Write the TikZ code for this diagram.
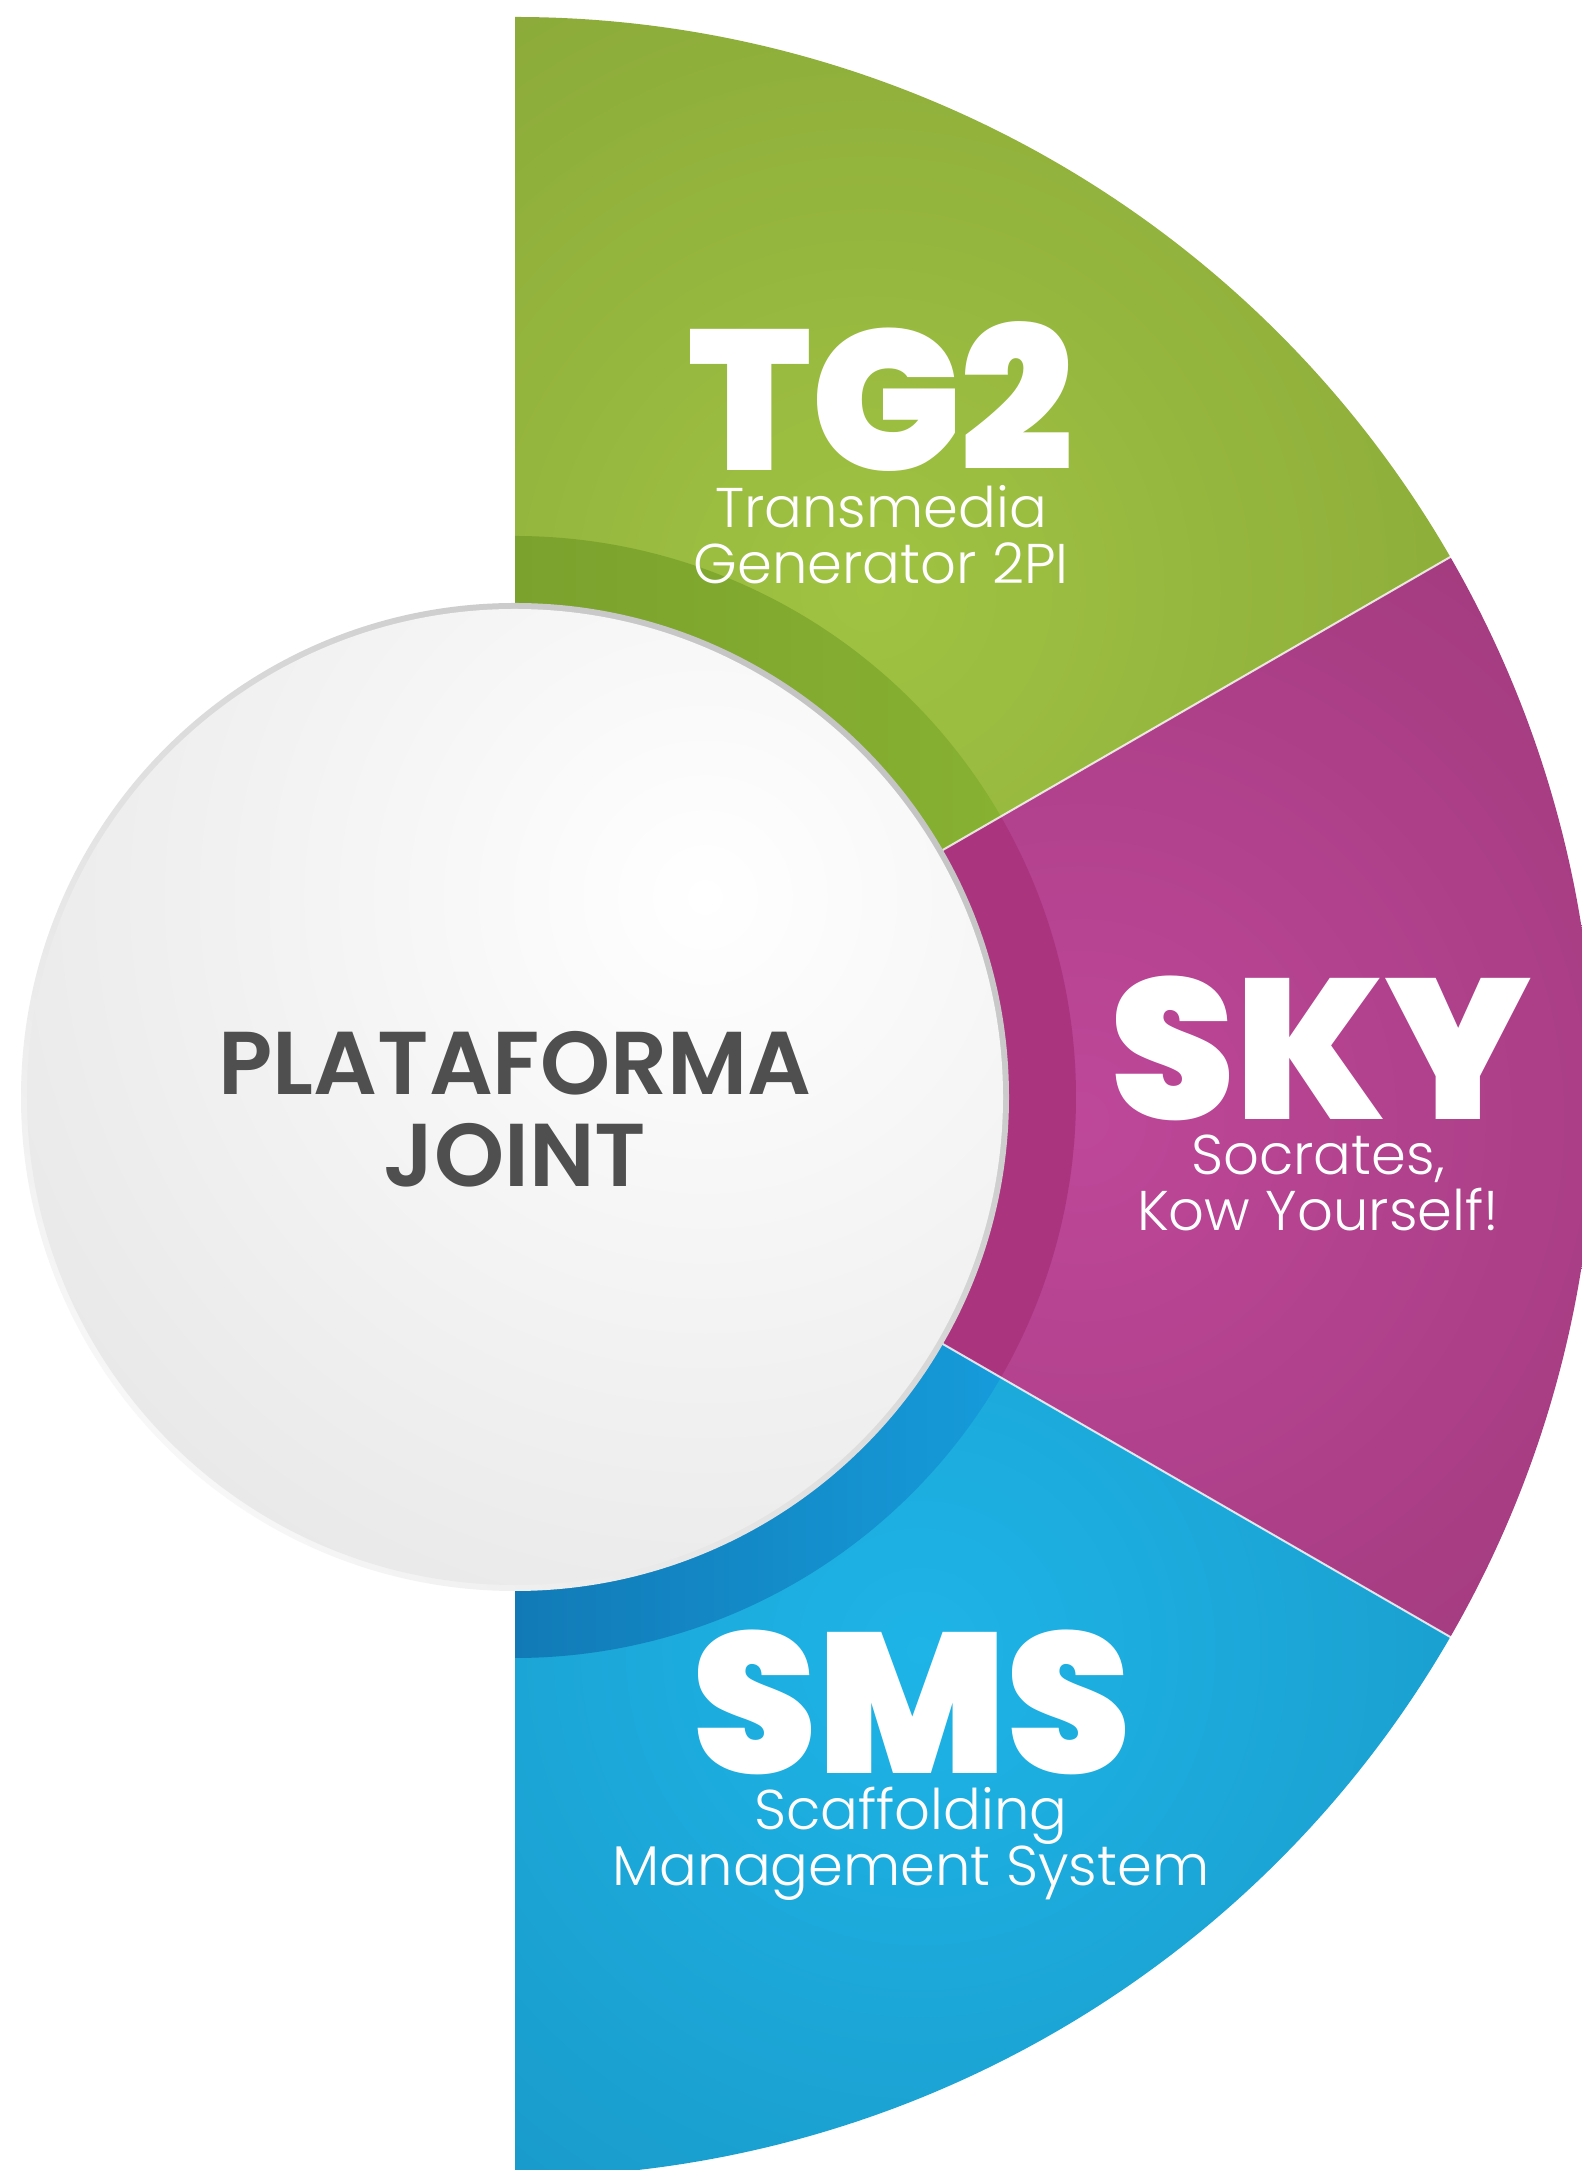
\documentclass[tikz,border=0pt]{standalone}
\usepackage{fontspec}
\usetikzlibrary{calc}
\newfontfamily\pblack{Poppins Black}
\newfontfamily\plight{Poppins Light}
\newfontfamily\psemi{Poppins SemiBold}
\definecolor{gLight}{HTML}{A0C342}
\definecolor{gDark}{HTML}{7A9633}
\definecolor{gRingA}{HTML}{7BA22D}
\definecolor{gRingB}{HTML}{87B131}
\definecolor{mLight}{HTML}{BE4799}
\definecolor{mDark}{HTML}{92336E}
\definecolor{mRing}{HTML}{AA347E}
\definecolor{bLight}{HTML}{1EB4E7}
\definecolor{bDark}{HTML}{1586B2}
\definecolor{bRingA}{HTML}{117AB6}
\definecolor{bRingB}{HTML}{169BDA}
\definecolor{coreText}{HTML}{4F4F4F}
\definecolor{rimLight}{HTML}{F7F7F7}
\definecolor{rimDark}{HTML}{C4C4C4}
\definecolor{discLight}{HTML}{FFFFFF}
\definecolor{discDark}{HTML}{D4D4D4}
\begin{document}
\begin{tikzpicture}[x=0.5pt,y=0.5pt,
  big/.style={text=white, font=\pblack\fontsize{99.7}{100}\selectfont, anchor=base, inner sep=0pt},
  sub/.style={text=white, font=\plight\fontsize{28}{30}\selectfont, anchor=base, inner sep=0pt},
  core/.style={text=coreText, font=\psemi\fontsize{44.6}{46}\selectfont, anchor=base, inner sep=0pt},
  sepline/.style={draw=white, draw opacity=0.8, line width=1pt}]
\useasboundingbox (0,0) rectangle (1582,2170);
\clip (0,0) rectangle (1582,2170);
\fill[white] (0,0) rectangle (1582,2170);
\coordinate (C) at (515,1073);
% green sector
\begin{scope}
  \clip (C) -- ++(90:1080) arc[start angle=90,end angle=30,radius=1080] -- cycle;
  \shade[inner color=gLight, outer color=gDark] (870,1580) circle (1260);
\end{scope}
% magenta sector
\begin{scope}
  \clip (C) -- ++(30:1080) arc[start angle=30,end angle=-30,radius=1080] -- cycle;
  \shade[inner color=mLight, outer color=mDark] (1080,1050) circle (1150);
\end{scope}
% blue sector
\begin{scope}
  \clip (C) -- ++(-30:1080) arc[start angle=-30,end angle=-90,radius=1080] -- cycle;
  \shade[inner color=bLight, outer color=bDark] (920,520) circle (1250);
\end{scope}
% rings
\shade[left color=gRingA, right color=gRingB] (C) -- ++(90:561) arc[start angle=90,end angle=30,radius=561] -- cycle;
\fill[mRing] (C) -- ++(30:561) arc[start angle=30,end angle=-30,radius=561] -- cycle;
\shade[left color=bRingA, right color=bRingB] (C) -- ++(-30:561) arc[start angle=-30,end angle=-90,radius=561] -- cycle;
% separators
\draw[sepline] ($(C)+(30:489)$) -- ($(C)+(30:1100)$);
\draw[sepline] ($(C)+(-30:489)$) -- ($(C)+(-30:1100)$);
% central circle
\shade[top color=rimLight, bottom color=rimDark, shading angle=135] (C) circle (494);
\begin{scope}
  \clip (C) circle (488);
  \shade[inner color=discLight, outer color=discDark] ($(C)+(190,200)$) circle (1500);
\end{scope}
% texts
\node[big] (tg2) at (881,1699) {TG2};
\node[sub] (tg2a) at (881,1642.7) {Transmedia};
\node[sub] (tg2b) at (881,1586.7) {Generator 2PI};
\node[big] (sky) at (1321,1050) {SKY};
\node[sub] (skya) at (1318,995) {Socrates,};
\node[sub] (skyb) at (1318,939) {Kow Yourself!};
\node[big] (sms) at (912,396) {SMS};
\node[sub] (smsa) at (911,340.4) {Scaffolding};
\node[sub] (smsb) at (911,284) {Management System};
\node[core] (pa) at (515,1075) {PLATAFORMA};
\node[core] (pb) at (515,983) {JOINT};
\end{tikzpicture}
\end{document}
